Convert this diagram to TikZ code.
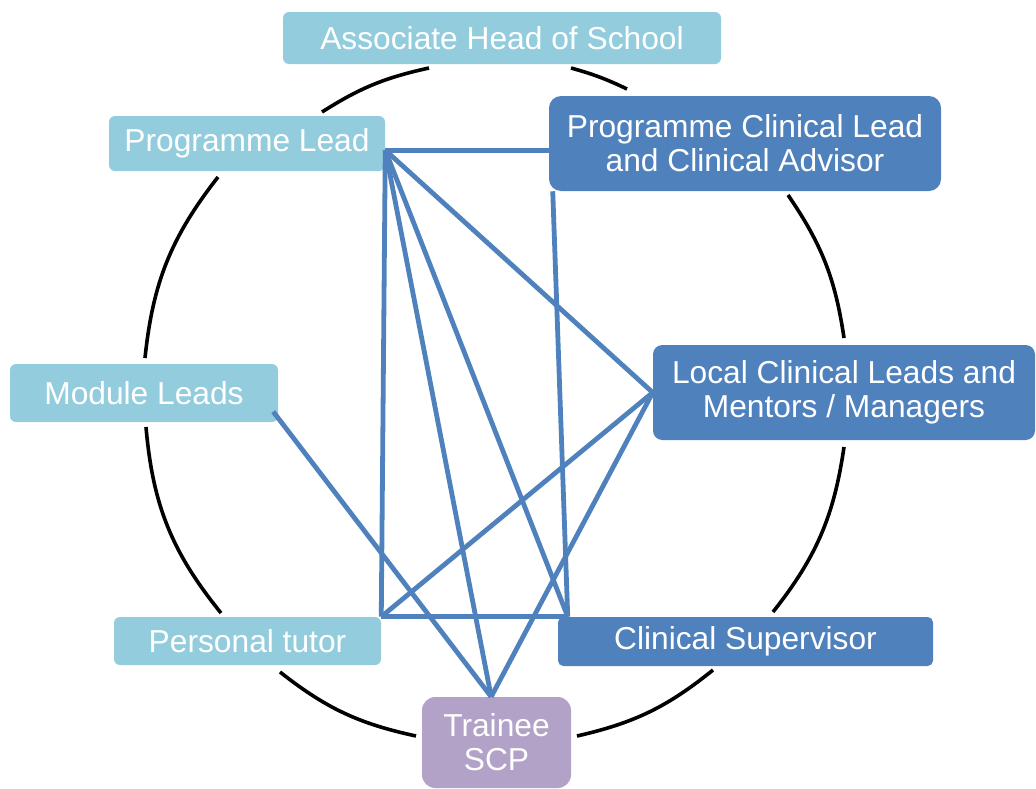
\documentclass[tikz,border=0pt]{standalone}
\usepackage{fontspec}
\setmainfont{Liberation Sans}
\definecolor{paleblue}{HTML}{93CDDD}
\definecolor{deepblue}{HTML}{4F81BD}
\definecolor{lilac}{HTML}{B3A2C7}
\begin{document}
\begin{tikzpicture}[x=0.75pt, y=0.75pt,
  role/.style={text=white, inner sep=0pt, align=center,
    font=\fontsize{23.8}{25.5}\selectfont},
  staff/.style={role, fill=paleblue, rounded corners=4.5pt},
  clinic/.style={role, fill=deepblue, rounded corners=9pt},
  link/.style={deepblue, line width=3.6pt},
  ring/.style={black, line width=2.7pt}]
\useasboundingbox (0,0) rectangle (1036,-789);

% ring round the roles
\draw[ring] (571,-68) to[bend left=5] (627,-89);
\draw[ring] (788,-195) to[bend left=13] (844,-338);
\draw[ring] (844,-447) to[bend left=15] (773,-612);
\draw[ring] (713,-670) to[bend left=13] (577,-736);
\draw[ring] (416,-736) to[bend left=13] (280,-672);
\draw[ring] (221,-613) to[bend left=17] (146,-427);
\draw[ring] (145,-358) to[bend left=16] (218,-177);
\draw[ring] (322,-112) to[bend left=10] (429,-68);

\node (ahs) [staff, minimum width=328.5pt, minimum height=39pt] at (502,-38) {Associate Head of School};
\node (pl) [staff, minimum width=207pt, minimum height=41.25pt] at (247,-143.5) {Programme Lead};
\node (pcl) [clinic, minimum width=294pt, minimum height=71.25pt] at (745,-143.5) {Programme Clinical Lead\\and Clinical Advisor};
\node (ml) [staff, minimum width=201pt, minimum height=43.5pt] at (144,-393) {Module Leads};
\node (lcl) [clinic, rounded corners=7pt, minimum width=286.5pt, minimum height=71.25pt] at (844,-392.5) {Local Clinical Leads and\\Mentors / Managers};
\node (pt) [staff, minimum width=200.25pt, minimum height=36pt] at (247.5,-641) {Personal tutor};
\node (cs) [clinic, rounded corners=4pt, minimum width=281.25pt, minimum height=36.75pt] at (745.5,-641.5) {Clinical Supervisor};
\node (tr) [role, fill=lilac, rounded corners=10pt, minimum width=111.75pt, minimum height=68.25pt] at (496.5,-742.5) {Trainee\\SCP};

\coordinate (plhub) at ([yshift=-5pt]pl.east);
\coordinate (cshub) at ([xshift=7.5pt]cs.north west);
\coordinate (pclhub) at ([xshift=3pt]pcl.south west);
\coordinate (trhub) at ([xshift=-4pt]tr.north);
\coordinate (mlhub) at ([xshift=-3.75pt, yshift=-14pt]ml.east);

% links
\draw[link] (plhub) -- (plhub -| pcl.west);
\draw[link] (plhub) -- (pt.north east);
\draw[link] (plhub) -- (lcl.west);
\draw[link] (plhub) -- (cshub);
\draw[link] (plhub) -- (trhub);
\draw[link] (pt.north east) -- (cshub);
\draw[link] (pt.north east) -- (lcl.west);
\draw[link] (pclhub) -- (cshub);
\draw[link] (lcl.west) -- (trhub);
\draw[link] (mlhub) -- (trhub);
\end{tikzpicture}
\end{document}
